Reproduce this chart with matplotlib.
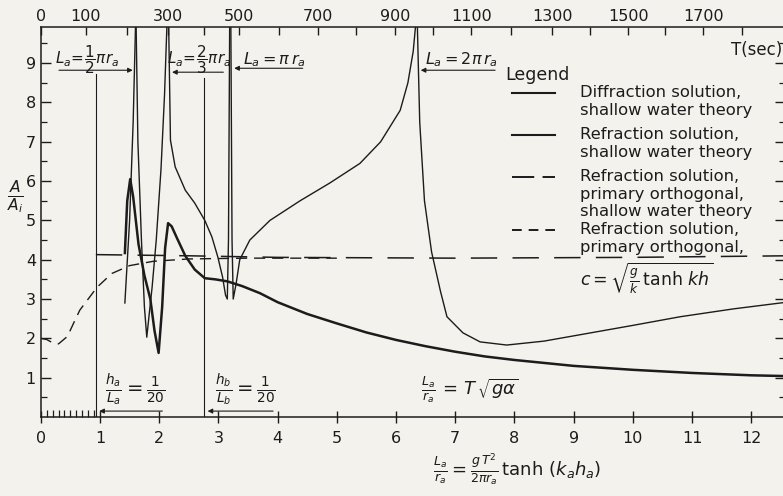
import matplotlib
matplotlib.use('Agg')
import matplotlib.pyplot as plt

plt.rcParams['font.family'] = ['DejaVu Sans']
plt.rcParams['mathtext.fontset'] = 'dejavusans'
plt.rcParams['lines.scale_dashes'] = False

INK = '#1c1c1c'
PAPER = '#f4f2ec'

# diffraction solution, shallow water theory (thick)
diff_x = [1.42, 1.46, 1.51, 1.56, 1.65, 1.75, 1.85, 1.92, 1.99, 2.05, 2.10, 2.15, 2.21, 2.30,
          2.44, 2.60, 2.77, 2.95, 3.15, 3.40, 3.70, 4.0, 4.5, 5.0, 5.5, 6.0, 6.5, 7.0, 7.5,
          8.0, 9.0, 10.0, 11.0, 12.0, 12.6]
diff_y = [4.17, 5.5, 6.05, 5.6, 4.4, 3.6, 3.0, 2.2, 1.63, 2.8, 4.3, 4.93, 4.85, 4.55,
          4.1, 3.75, 3.53, 3.5, 3.45, 3.33, 3.15, 2.92, 2.62, 2.38, 2.15, 1.96, 1.8, 1.66, 1.54,
          1.45, 1.3, 1.2, 1.12, 1.06, 1.04]

# refraction solution, shallow water theory (thin) - branches between caustics
refr_x = [
    [1.42, 1.50, 1.56, 1.60],
    [1.61, 1.64, 1.70, 1.75, 1.79, 1.83, 1.88, 1.95, 2.03, 2.09, 2.13],
    [2.16, 2.19, 2.27, 2.44, 2.60, 2.77, 2.89, 2.99, 3.07, 3.12, 3.15, 3.17, 3.19],
    [3.21, 3.23, 3.25, 3.30, 3.36, 3.53, 3.87, 4.38, 4.88, 5.39, 5.74, 6.07, 6.20, 6.29, 6.33],
    [6.36, 6.40, 6.48, 6.60, 6.75, 6.86, 7.13, 7.42, 7.87, 8.5, 9.1, 10.0, 10.8, 11.7, 12.6],
]
refr_y = [
    [2.90, 5.00, 7.50, 9.95],
    [9.95, 7.0, 4.5, 2.8, 2.03, 2.6, 3.3, 4.5, 6.3, 8.2, 9.95],
    [9.95, 7.04, 6.36, 5.77, 5.44, 5.0, 4.58, 4.07, 3.56, 3.1, 3.0, 4.5, 9.95],
    [9.95, 4.5, 3.0, 3.4, 4.0, 4.5, 5.0, 5.5, 5.95, 6.45, 7.0, 7.8, 8.5, 9.3, 9.95],
    [9.95, 7.5, 5.5, 4.2, 3.2, 2.55, 2.14, 1.91, 1.83, 1.93, 2.09, 2.33, 2.55, 2.75, 2.92],
]

# primary orthogonal, shallow water theory (long dash)
orth_x = [0.93, 2.5, 4.0, 7.0, 10.0, 12.6]
orth_y = [4.13, 4.10, 4.06, 4.04, 4.06, 4.10]

# primary orthogonal, c = sqrt(g/k tanh kh) (short dash)
orth_c_x = [0.0, 0.1, 0.22, 0.3, 0.45, 0.58, 0.66, 0.75, 0.95, 1.2, 1.5, 1.9, 2.5, 3.5, 5.0]
orth_c_y = [2.0, 1.97, 1.87, 1.86, 2.05, 2.47, 2.72, 2.9, 3.3, 3.65, 3.85, 3.96, 4.02, 4.04, 4.04]

# wave period axis on top: T (sec) against L_a/r_a
t_major = [0, 100, 200, 300, 400, 500, 600, 700, 800, 900, 1000, 1100, 1200, 1300, 1400,
           1500, 1600, 1700, 1800]
t_pos = [0.0, 0.76, 1.45, 2.15, 2.75, 3.35, 4.02, 4.68, 5.33, 5.99, 6.63, 7.27, 7.95, 8.64,
         9.28, 9.92, 10.55, 11.19, 11.85]

# depth ratio markers h/L = 1/20
hl_x = [0.93, 2.76]
hl_top = [8.72, 8.62]


def arrow(ax, tip, tail, y):
    ax.annotate('', xy=(tip, y), xytext=(tail, y),
                arrowprops=dict(arrowstyle='-|>', color=INK, lw=0.8, mutation_scale=7))


def main():
    fig = plt.figure(figsize=(7.83, 4.96), dpi=100, facecolor=PAPER)
    ax = fig.add_axes([0.0521, 0.1593, 0.9505, 0.7863])
    ax.set_facecolor(PAPER)
    ax.set_xlim(0, 12.57)
    ax.set_ylim(0, 9.92)

    ax.plot(diff_x, diff_y, color=INK, lw=1.8, solid_joinstyle='round')
    for bx, by in zip(refr_x, refr_y):
        ax.plot(bx, by, color=INK, lw=1.0)
    ax.plot(orth_x, orth_y, color=INK, lw=1.1, dashes=(19, 11))
    ax.plot(orth_c_x, orth_c_y, color=INK, lw=1.0, dashes=(8, 5))

    for hx, ht in zip(hl_x, hl_top):
        ax.plot([hx, hx], [0, ht], color=INK, lw=0.8)

    # spines / ticks
    for s in ax.spines.values():
        s.set_color(INK)
        s.set_linewidth(1.1)
    ax.set_xticks(range(0, 13))
    ax.set_xticks([i / 10 for i in range(1, 10)], minor=True)
    ax.set_yticks(range(1, 10))
    ax.set_yticks([i + 0.5 for i in range(0, 10)], minor=True)
    ax.tick_params(axis='x', which='major', direction='inout', length=8, width=1,
                   colors=INK, labelsize=11.5, pad=6)
    ax.tick_params(axis='x', which='minor', direction='in', length=5, width=0.9, colors=INK)
    ax.tick_params(axis='y', which='major', direction='in', length=7, width=1,
                   colors=INK, labelsize=11.5, right=True)
    ax.tick_params(axis='y', which='minor', direction='in', length=4, width=0.9, right=True,
                   colors=INK)
    ax.set_xticklabels([str(i) for i in range(0, 13)])

    top = ax.twiny()
    top.set_xlim(ax.get_xlim())
    top.set_xticks(t_pos)
    top.set_xticklabels([str(t) if (t // 100) % 2 == 1 or t == 0 else '' for t in t_major])
    top.tick_params(axis='x', direction='in', length=6, width=1, colors=INK,
                    labelsize=11.5, pad=2)
    for s in top.spines.values():
        s.set_visible(False)

    # caustic annotations
    fs = 11
    ax.text(0.78, 9.1, r'$L_a\!=\!\dfrac{1}{2}\pi r_a$', ha='center', va='center',
            fontsize=fs, color=INK)
    arrow(ax, 1.60, 0.26, 8.82)
    ax.text(2.68, 9.1, r'$L_a\!=\!\dfrac{2}{3}\pi r_a$', ha='center', va='center',
            fontsize=fs, color=INK)
    arrow(ax, 2.17, 3.13, 8.77)
    ax.text(3.95, 9.1, r'$L_a=\pi\, r_a$', ha='center', va='center', fontsize=fs + 0.5,
            color=INK)
    arrow(ax, 3.22, 4.47, 8.87)
    ax.text(7.1, 9.1, r'$L_a=2\pi\, r_a$', ha='center', va='center', fontsize=fs + 0.5,
            color=INK)
    arrow(ax, 6.37, 7.72, 8.82)

    # depth ratio annotations
    ax.text(1.6, 0.7, r'$\frac{h_a}{L_a}=\frac{1}{20}$', ha='center', va='center',
            fontsize=14, color=INK)
    arrow(ax, 0.94, 2.1, 0.15)
    ax.text(3.45, 0.7, r'$\frac{h_b}{L_b}=\frac{1}{20}$', ha='center', va='center',
            fontsize=14, color=INK)
    arrow(ax, 2.77, 3.97, 0.15)
    ax.text(7.25, 0.7, r'$\frac{L_a}{r_a}\,=\,T\,\sqrt{g\alpha}$', ha='center', va='center',
            fontsize=13, color=INK)

    ax.text(12.52, 9.33, 'T(sec)', ha='right', va='center', fontsize=12, color=INK)

    # legend drawn by hand so the key sits beside the first text line
    lfs = 11.8
    ax.text(7.84, 8.70, 'Legend', ha='left', va='center', fontsize=12.5, color=INK)
    keys = [
        (8.24, dict(lw=1.5), 'Diffraction solution,\nshallow water theory'),
        (7.17, dict(lw=1.5), 'Refraction solution,\nshallow water theory'),
        (6.10, dict(lw=1.4, dashes=(16, 6)),
         'Refraction solution,\nprimary orthogonal,\nshallow water theory'),
        (4.75, dict(lw=1.4, dashes=(7, 5)), 'Refraction solution,\nprimary orthogonal,'),
    ]
    for ky, style, label in keys:
        ax.plot([7.96, 8.69], [ky, ky], color=INK, **style)
        ax.text(9.11, ky + 0.2, label, ha='left', va='top', fontsize=lfs, color=INK,
                linespacing=1.2)
    ax.text(9.11, 3.53, r'$c=\sqrt{\frac{g}{k}\,\tanh\,kh}$', ha='left', va='center',
            fontsize=12.5, color=INK)

    fig.text(0.02, 0.603, r'$\frac{A}{A_i}$', ha='center', va='center', fontsize=16, color=INK)
    fig.text(0.66, 0.052, r'$\frac{L_a}{r_a}=\frac{g\,T^2}{2\pi r_a}\,\tanh\,(k_a h_a)$',
             ha='center', va='center', fontsize=13, color=INK)

    fig.savefig('out.png', dpi=100, facecolor=PAPER)
    plt.close(fig)


if __name__ == '__main__':
    main()
